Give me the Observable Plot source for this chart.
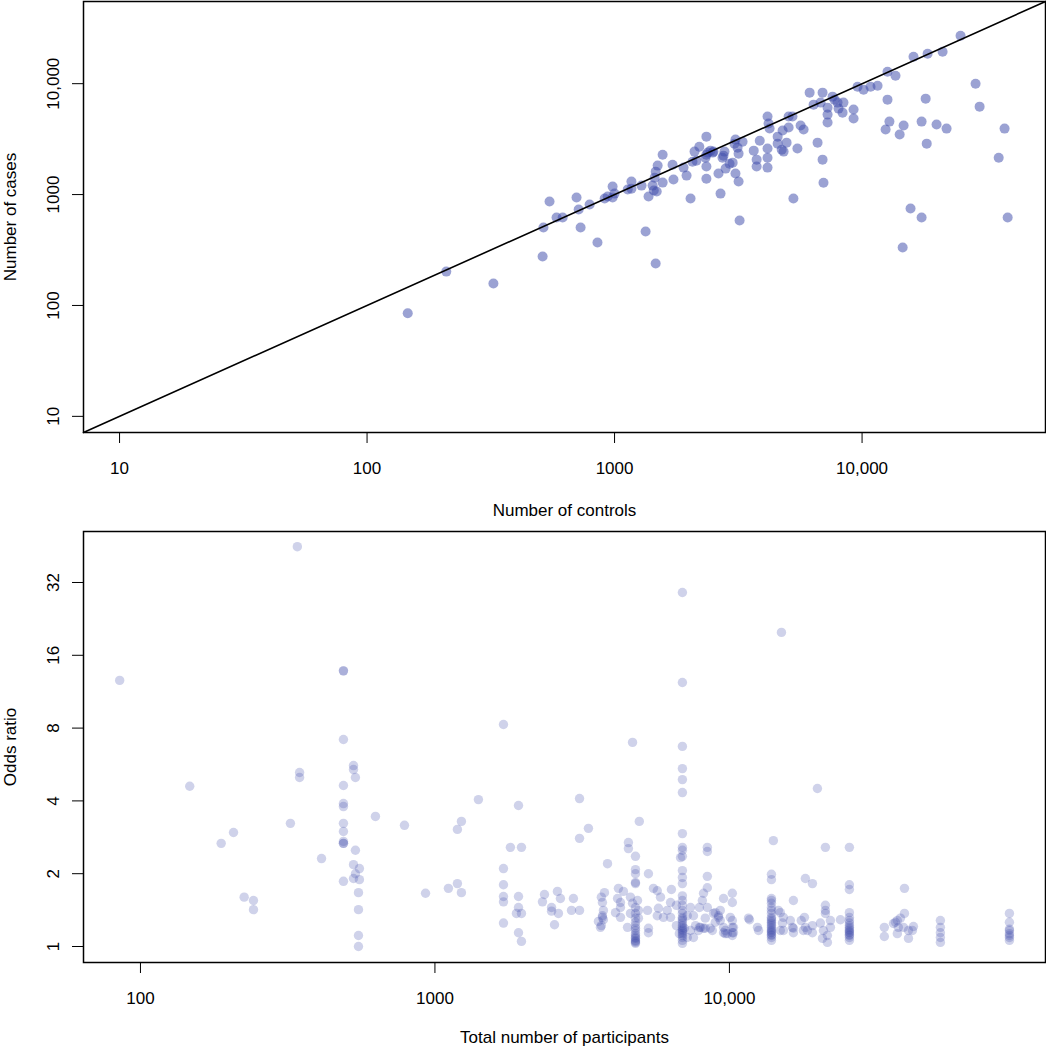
<!DOCTYPE html>
<html><head><meta charset="utf-8">
<script src="https://cdn.jsdelivr.net/npm/d3@7"></script>
<script src="https://cdn.jsdelivr.net/npm/@observablehq/plot@0.6"></script>
<style>
body{margin:0;background:#fff;}
#chart svg{display:block;}
</style></head><body><div id="chart"></div>
<script>
// ---------- Top panel: number of controls vs number of cases ----------
const controls = [
  146,209,324,512,516,546,583,617,702,716,
  729,793,853,912,938,982,1000,982,1130,1170,
  1170,1285,1335,1372,1425,1452,1466,1493,1440,1480,
  1564,1564,1466,1715,1730,1900,1954,2028,2065,2104,
  2200,2350,2140,2330,2380,2490,2350,2350,2630,2680,
  2755,2810,2915,3000,3050,3140,3170,3080,3170,3200,
  2440,2510,2730,2780,3080,3290,3650,3750,3750,3860,
  4150,4190,4230,4150,4150,4150,4560,4560,4735,4820,
  4775,4955,5050,5050,5235,5280,5480,5645,5805,6140,
  6370,6610,6800,6925,6925,6985,7255,7255,7255,7600,
  7740,7960,8035,8340,8410,9240,9240,9590,10140,10820,
  11550,12670,13650,16140,18400,21150,25000,28750,29850,18070,
  12670,12900,12450,14720,14190,17400,20000,21950,18250,37650,
  35650,15700,17400,38750,14590,2350
];
const cases = [
  85,202,158,276,505,865,621,621,940,733,
  505,813,370,920,960,1180,1020,940,1110,1310,
  1130,1205,464,960,1205,1420,1610,1825,1087,1064,
  2290,1282,239,1860,1365,1750,1483,920,1980,2440,
  2700,3330,2020,2150,2390,2390,1790,1390,1550,1020,
  2245,1715,1900,1940,2880,2650,2340,1550,1310,583,
  2490,2440,2150,2440,3130,3000,2490,2065,1790,3060,
  5050,4370,3940,2600,2150,1750,3330,2880,2540,2440,
  3780,2940,4020,5050,5050,920,2600,4190,3860,8300,
  6470,2940,6750,8300,2065,1280,4460,5260,6080,7640,
  7180,6750,5960,5480,6750,5840,4850,9400,8830,9400,
  9590,12830,11800,17500,18620,19420,27050,10000,6210,7330,
  7180,4550,3860,4190,3475,4550,4280,3935,2880,3935,
  2150,748,621,621,333,2290
];
const topTicks = [10, 100, 1000, 10000];
const topTickLabels = ["10", "100", "1000", "10,000"];
const topDomain = [7.15, 55100];

// ---------- Bottom panel: total participants vs odds ratio ----------
const participantTotals = [
  85,147,188,207,225,242,323,341,347,412,
  489,529,537,550,554,628,788,929,1111,1192,
  1230,1405,1709,1804,1891,1922,1967,2318,2355,2489,
  2547,2606,2626,2667,2909,2953,3097,3321,3591,3648,
  3674,3705,3733,3764,3855,4104,4169,4199,4266,4365,
  4508,4539,4613,4688,4797,4875,4909,4943,5272,5309,
  5521,5689,5741,5834,5970,6152,6310,6353,6607,6761,
  6823,6923,7031,7194,7379,7551,7674,7852,7907,7980,
  8091,8166,8279,8414,8610,8750,8831,8954,9183,9311,
  9550,9683,9840,10070,10230,10320,11610,11700,12450,12560,
  13890,14100,14660,14890,15020,15140,15250,16100,16370,16490,
  17540,17830,17980,18110,18400,19140,19900,20370,20700,20850,
  21180,21510,22030,23820,25550,33580,36060,36630,37170,37470,
  38080,38990,39300,40550,41820,42160,52050,89300
];
const oddsRatiosByTotal = [
  [12.6],[4.6],[2.67],[2.96],[1.60],[1.55,1.42],[3.23],[45],[5.24,5.0],[2.31],
  [13.8,13.8,7.18,4.63,3.90,3.79,3.23,2.99,2.72,2.67,2.67,1.86],
  [5.6,5.39,2.18,1.91],[5.0,2.5,2.0],[1.67,1.42,1.11,1.0],[2.10,1.89],
  [3.45],[3.17],[1.66],[1.74],[3.05,1.82],
  [3.29,1.67],[4.05],[8.28,2.10,1.80,1.61,1.53,1.25],[2.57],[1.37],
  [3.83,1.61,1.45,1.14],[2.57,1.37,1.05],[1.53],[1.64],[1.45,1.40],
  [1.23],[1.69],[1.37],[1.58],[1.41],[1.58],[4.09,2.80,1.41],[3.08],[1.27],[1.20],
  [1.60,1.22],[1.52,1.34,1.32],[1.41,1.29],[1.67],[2.2],[1.38],[1.58],[1.74],[1.52,1.45,1.32],[1.69],
  [1.20],[2.69,2.54],[1.60,1.37],[6.98,1.51],
  [2.36,2.08,2.0,1.84,1.82,1.45,1.37,1.31,1.26,1.22,1.19,1.165,1.13,1.11,1.09,1.06,1.03,1.08,1.05,1.04],
  [1.55],[1.41,1.31],[3.29],[1.41],[2.0,1.19,1.14],
  [1.74],[1.70,1.34],[1.44],[1.60],[1.32],[1.41],[1.52,1.32],[1.72],[1.48,1.22],[1.13],
  [2.33],
  [29.1,12.35,6.72,5.44,4.90,4.33,2.93,2.57,2.50,2.36,2.06,1.93,1.82,1.62,1.55,1.48,1.41,1.37,1.32,1.30,1.28,1.25,1.22,1.20,1.18,1.165,1.15,1.13,1.11,1.09,1.06,1.03],
  [1.19],[1.34,1.09],[1.45,1.165],[1.34,1.09],[1.22],[1.165],[1.45,1.20],[1.20],
  [1.55],[1.66,1.19],[1.31,1.19],[2.57,2.47,1.95,1.75,1.45],[1.19],[1.165],[1.37],[1.38,1.26],[1.34,1.32],[1.41,1.28],
  [1.58,1.20,1.14],[1.165,1.13],[1.13],[1.32],[1.66,1.52,1.28,1.20,1.14,1.11],[1.20,1.14],[1.31],[1.29],[1.20],[1.165],
  [1.99,1.89,1.58,1.55,1.51,1.45,1.41,1.37,1.32,1.30,1.28,1.26,1.24,1.22,1.20,1.18,1.165,1.15,1.14,1.12,1.11,1.09,1.06],
  [2.74],[1.41],[1.38,1.165],[19.9],[1.25],[1.32,1.165],[1.28],[1.20],[1.55,1.19,1.14],
  [1.28],[1.165],[1.32],[1.91,1.20],[1.165],[1.82,1.22,1.14],[4.50],[1.25],[1.08],[1.165],
  [2.57,1.48,1.41,1.37],[1.11,1.04],[1.28,1.20],[1.29],
  [2.57,1.80,1.72,1.38,1.32,1.28,1.25,1.22,1.20,1.18,1.165,1.15,1.14,1.12,1.11,1.09,1.06],
  [1.20,1.10],[1.245],[1.26],[1.28,1.13],[1.20],
  [1.31],[1.20],[1.74,1.37],[1.165,1.08],[1.165],[1.21],[1.28,1.20,1.14,1.09,1.04],[1.37,1.26,1.18,1.165,1.13,1.11,1.09,1.06]
];
const bottomXTicks = [100, 1000, 10000];
const bottomXTickLabels = ["100", "1000", "10,000"];
const bottomYTicks = [1, 2, 4, 8, 16, 32];
const bottomYTickLabels = ["1", "2", "4", "8", "16", "32"];
const bottomXDomain = [64.06, 118400];
const bottomYDomain = [0.8587, 52.0];

// ---------- drawing ----------
const font = "'Liberation Sans', Arial, Helvetica, sans-serif";
const pointColor = "#3f4dab";
const fmt = (ticks, labels) => d => labels[ticks.indexOf(d)] ?? "";

const topData = controls.map((c, i) => ({controls: c, cases: cases[i]}));
const bottomData = participantTotals.flatMap((t, i) => oddsRatiosByTotal[i].map(o => ({total: t, or: o})));

const style = {fontFamily: font, fontSize: "17px", color: "#000", background: "#fff", overflow: "visible"};

const topPlot = Plot.plot({
  width: 1046, height: 520,
  marginTop: 1, marginRight: 1, marginBottom: 88, marginLeft: 83,
  style,
  x: {type: "log", domain: topDomain},
  y: {type: "log", domain: topDomain},
  marks: [
    Plot.dot(topData, {x: "controls", y: "cases", r: 5, fill: pointColor, fillOpacity: 0.52, stroke: "none"}),
    Plot.line(topDomain, {x: d => d, y: d => d, stroke: "#000", strokeWidth: 1.6}),
    Plot.frame({stroke: "#000", strokeWidth: 1.5}),
    Plot.axisX({ticks: topTicks, tickSize: 11, tickPadding: 18, tickFormat: fmt(topTicks, topTickLabels),
      label: "Number of controls", labelAnchor: "center", labelArrow: "none", labelOffset: 83}),
    Plot.axisY({ticks: topTicks, tickSize: 11, tickPadding: 14, tickRotate: -90, tickFormat: fmt(topTicks, topTickLabels),
      label: "Number of cases", labelAnchor: "center", labelArrow: "none", labelOffset: 80})
  ]
});

const bottomPlot = Plot.plot({
  width: 1046, height: 530,
  marginTop: 11, marginRight: 1, marginBottom: 88, marginLeft: 83,
  style,
  x: {type: "log", domain: bottomXDomain},
  y: {type: "log", base: 2, domain: bottomYDomain},
  marks: [
    Plot.dot(bottomData, {x: "total", y: "or", r: 4.7, fill: pointColor, fillOpacity: 0.25, stroke: "none"}),
    Plot.frame({stroke: "#000", strokeWidth: 1.5}),
    Plot.axisX({ticks: bottomXTicks, tickSize: 11, tickPadding: 18, tickFormat: fmt(bottomXTicks, bottomXTickLabels),
      label: "Total number of participants", labelAnchor: "center", labelArrow: "none", labelOffset: 80}),
    Plot.axisY({ticks: bottomYTicks, tickSize: 11, tickPadding: 14, tickRotate: -90, tickFormat: fmt(bottomYTicks, bottomYTickLabels),
      label: "Odds ratio", labelAnchor: "center", labelArrow: "none", labelOffset: 80})
  ]
});

document.getElementById("chart").append(topPlot, bottomPlot);
</script></body></html>
